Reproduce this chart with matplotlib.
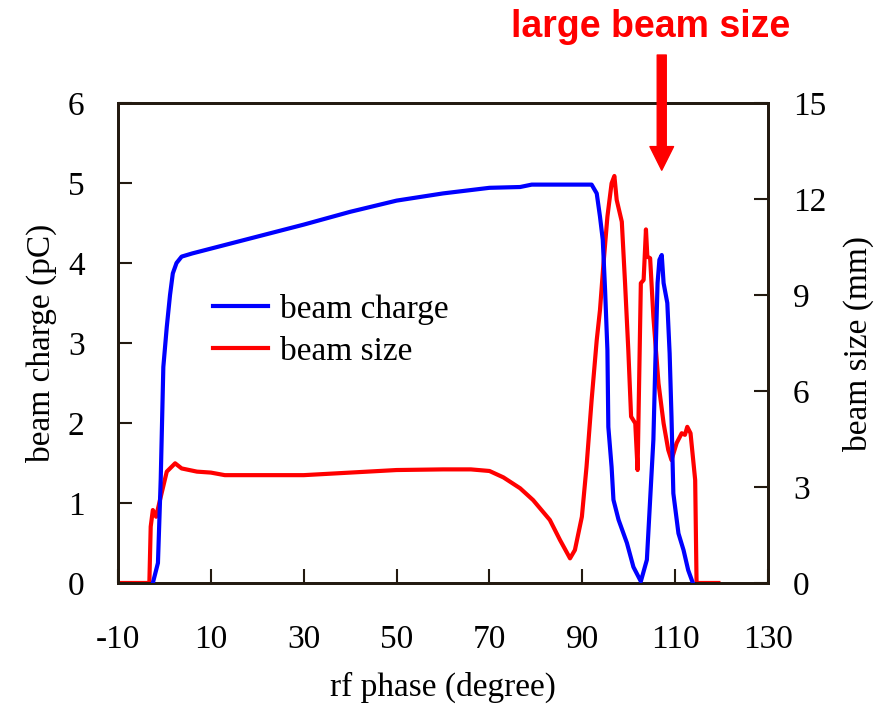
import matplotlib
matplotlib.use("Agg")
import matplotlib.pyplot as plt

plt.rcParams['font.family'] = ['Liberation Serif', 'DejaVu Serif']
plt.rcParams['axes.unicode_minus'] = False

# beam charge (pC) vs rf phase (degree)
charge_phase = [-2.5, -1.4, -0.8, -0.24, 0.5, 1.2, 1.8, 2.6, 3.7, 6.0, 10.0, 20.0, 30.0, 40.0, 50.0,
                60.0, 70.0, 76.6, 79.1, 85.0, 92.0, 93.1, 93.8, 94.4, 94.9, 95.4, 95.6, 96.3,
                96.7, 97.8, 99.6, 101.0, 102.6, 103.9, 104.6, 105.3, 105.7, 106.2, 106.6,
                107.1, 107.5, 108.3, 108.8, 109.2, 109.6, 110.7, 111.8, 112.8, 113.8]
charge_pc = [0.0, 0.25, 1.3, 2.7, 3.2, 3.6, 3.87, 4.0, 4.08, 4.12, 4.18, 4.33, 4.48, 4.64, 4.78,
             4.87, 4.94, 4.95, 4.98, 4.98, 4.98, 4.87, 4.58, 4.29, 3.66, 2.91, 1.95, 1.45,
             1.04, 0.79, 0.5, 0.2, 0.02, 0.29, 1.04, 1.79, 2.7, 3.75, 4.04,
             4.1, 3.75, 3.5, 2.87, 2.08, 1.12, 0.62, 0.41, 0.16, 0.0]

# beam size (mm) vs rf phase (degree)
size_phase = [-10.0, -3.25, -2.96, -2.5, -1.8, -0.95, 0.5, 2.3, 3.7, 7.0, 10.0, 13.0, 30.0,
              40.0, 50.0, 60.0, 66.0, 70.0, 73.0, 76.6, 79.4, 83.0, 85.2, 87.35, 88.4, 89.9,
              90.9, 92.0, 93.1, 93.8, 94.5, 95.4, 96.3, 96.9, 97.4, 98.5, 99.2, 99.9,
              100.5, 101.4, 101.9, 102.6, 103.2, 103.7, 104.0, 104.6, 105.3, 106.4, 107.5,
              108.5, 109.2, 110.3, 111.4, 112.1, 112.6, 113.3, 114.3, 114.6, 119.3]
size_mm = [0.0, 0.0, 1.76, 2.28, 2.07, 2.6, 3.48, 3.74, 3.58, 3.48, 3.45, 3.37, 3.37,
           3.45, 3.53, 3.55, 3.55, 3.5, 3.3, 2.96, 2.59, 1.97, 1.34, 0.77, 1.03, 2.07,
           3.63, 5.72, 7.59, 8.53, 9.88, 11.45, 12.49, 12.72, 11.97, 11.29, 9.37, 7.28,
           5.2, 4.99, 3.53, 9.37, 9.47, 11.05, 10.2, 10.15, 8.32, 6.24, 4.99,
           4.16, 3.84, 4.37, 4.68, 4.63, 4.88, 4.68, 3.22, 0.0, 0.0]

x_ticks = [-10, 10, 30, 50, 70, 90, 110, 130]
charge_ticks = [0, 1, 2, 3, 4, 5, 6]
size_ticks = [0, 3, 6, 9, 12, 15]

frame_color = '#231a10'

fig = plt.figure(figsize=(8.9, 7.1), dpi=100)
ax = fig.add_axes([0.1326, 0.1789, 0.7304, 0.676])
ax2 = ax.twinx()

ax2.plot(size_phase, size_mm, color='#ff0000', lw=3, label='beam size', zorder=2)
ax.plot(charge_phase, charge_pc, color='#0000ff', lw=3, label='beam charge', zorder=3)
ax.set_zorder(ax2.get_zorder() + 1)
ax.patch.set_visible(False)

ax.set_xlim(-10, 130)
ax.set_ylim(0, 6)
ax2.set_ylim(0, 15)
ax.set_xticks(x_ticks)
ax.set_yticks(charge_ticks)
ax2.set_yticks(size_ticks)

ax.tick_params(axis='x', direction='in', length=10, width=1.5, pad=30, labelsize=24, color=frame_color)
ax.tick_params(axis='y', direction='in', length=10, width=1.5, pad=24, labelsize=24, color=frame_color)
ax2.tick_params(axis='y', direction='in', length=10, width=1.5, pad=18, labelsize=24, color=frame_color)

for a in (ax, ax2):
    for s in a.spines.values():
        s.set_color(frame_color)
        s.set_linewidth(2)

ax.set_xlabel('rf phase (degree)', fontsize=24, labelpad=12)
ax.set_ylabel('beam charge (pC)', fontsize=24, labelpad=8)
ax2.set_ylabel('beam size (mm)', fontsize=24, labelpad=12)

# legend built from both axes
h1, l1 = ax.get_legend_handles_labels()
h2, l2 = ax2.get_legend_handles_labels()
ax.legend(h1 + h2, l1 + l2, loc='upper left', bbox_to_anchor=(0.1, 0.665), frameon=False,
          fontsize=24, handlelength=1.65, handletextpad=0.35, labelspacing=0.35)

# annotation above the plot
ax.annotate('', xy=(107.1, 5.16), xytext=(107.1, 6.6), annotation_clip=False,
            arrowprops=dict(width=6.5, headwidth=17, headlength=17,
                            color='#ff0000', shrink=0))
ax.text(104.6, 6.95, 'large beam size', color='#ff0000', fontsize=27, fontweight='bold',
        family=['Liberation Sans', 'DejaVu Sans'], ha='center', va='center', clip_on=False)

fig.savefig('out.png', dpi=100)
